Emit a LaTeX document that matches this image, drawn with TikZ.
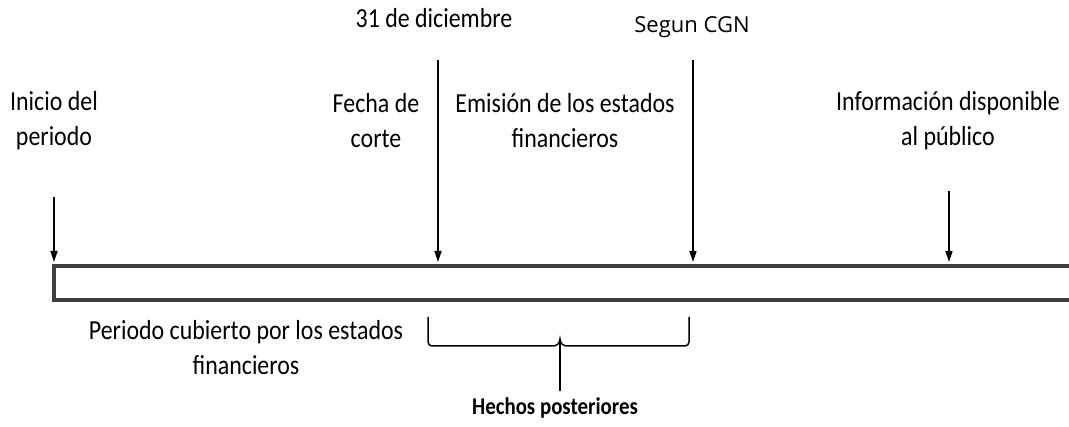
\documentclass[tikz,border=0pt]{standalone}
\usepackage{fontspec}
\setmainfont{Carlito}[FakeStretch=0.87]
\newfontfamily\osans{Open Sans}
\usetikzlibrary{arrows.meta}
\begin{document}
\begin{tikzpicture}[x=1pt,y=-1pt,
  lbl/.style={align=center, font=\fontsize{27.5}{35}\selectfont, inner sep=0pt},
  arr/.style={line width=1.5pt, -{Triangle[length=11pt,width=7pt]}},
  barline/.style={line width=3.5pt, draw=black!75},
  brace/.style={line width=1.5pt, rounded corners=4pt}]
\useasboundingbox (0,0) rectangle (1069,427);
% texts
\node[lbl] (dic) at (434,18) {31 de diciembre};
\node[lbl, font=\osans\fontsize{22}{26}\selectfont] (cgn) at (692,27) {Segun CGN};
\node[lbl] (ini) at (54,121) {Inicio del\\periodo};
\node[lbl] (fec) at (376,121) {Fecha de\\corte};
\node[lbl] (emi) at (565,121) {Emisión de los estados\\financieros};
\node[lbl] (inf) at (948,121) {Información disponible\\al público};
\node[lbl] (per) at (246,348) {Periodo cubierto por los estados\\financieros};
\node[lbl, font=\bfseries\fontsize{24}{28}\selectfont] (hec) at (555,408) {Hechos posteriores};
% bar
\coordinate (barTL) at (54,266);
\coordinate (barBL) at (54,300);
\coordinate (barTR) at (1069,266);
\coordinate (barBR) at (1069,300);
\draw[barline] (barTR) -- (barTL) -- (barBL) -- (barBR);
% arrow coordinates
\coordinate (a1s) at (54,197);  \coordinate (a1e) at (54,262);
\coordinate (a2s) at (438,60);  \coordinate (a2e) at (438,262);
\coordinate (a3s) at (693,60);  \coordinate (a3e) at (693,262);
\coordinate (a4s) at (949,191); \coordinate (a4e) at (949,262);
\draw[arr] (a1s) -- (a1e);
\draw[arr] (a2s) -- (a2e);
\draw[arr] (a3s) -- (a3e);
\draw[arr] (a4s) -- (a4e);
% brace
\coordinate (bL) at (428,317);
\coordinate (bR) at (689,317);
\coordinate (bM) at (560,346);
\coordinate (bT) at (560,391);
\draw[brace] (bL) |- ([xshift=-7pt]bM);
\draw[brace] (bR) |- ([xshift=7pt]bM);
\draw[line width=1.5pt] ([xshift=-7pt]bM) to[out=0,in=-90] ([yshift=7pt]bM) to[out=-90,in=180] ([xshift=7pt]bM);
\draw[line width=1.5pt] ([yshift=7pt]bM) -- (bT);
\end{tikzpicture}
\end{document}
